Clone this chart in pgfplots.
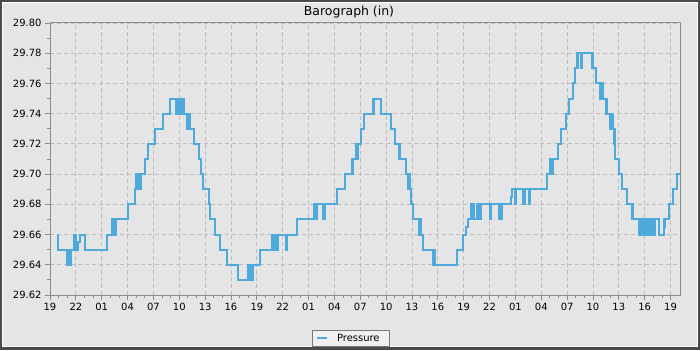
\documentclass[border=0pt]{standalone}
\usepackage{fontspec}
\setmainfont{DejaVu Sans}
\usepackage{pgfplots}
\pgfplotsset{compat=1.18}
\definecolor{framec}{HTML}{4A4A4A}
\definecolor{bg}{HTML}{E5E5E5}
\definecolor{gridc}{HTML}{BDBDBD}
\definecolor{axc}{HTML}{8C8C8C}
\definecolor{linec}{HTML}{4EAADB}
\definecolor{legbg}{HTML}{F0F0F0}
\definecolor{legdraw}{HTML}{7A7A7A}
\begin{document}
\begin{tikzpicture}[x=1bp,y=1bp]
\fill[framec] (0,0) rectangle (700,350);
\fill[white] (2,3) rectangle (697.5,348);
\fill[bg] (3,4) rectangle (697,347);
\begin{axis}[
 at={(50bp,55bp)}, anchor=south west,
 scale only axis, width=630bp, height=272bp,
 xmin=0, xmax=73.1, ymin=29.62, ymax=29.80,
 axis background/.style={fill=bg},
 axis line style={axc, line width=1bp},
 every tick/.style={axc, line width=0.8bp},
 tick align=outside, tick pos=left,
 major tick length=5bp, minor tick length=3bp,
 xtick={0,3,...,72},
 xticklabels={19,22,01,04,07,10,13,16,19,22,01,04,07,10,13,16,19,22,01,04,07,10,13,16,19},
 minor x tick num=2,
 ytick={29.62,29.64,29.66,29.68,29.70,29.72,29.74,29.76,29.78,29.80},
 yticklabels={29.62,29.64,29.66,29.68,29.70,29.72,29.74,29.76,29.78,29.80},
 minor y tick num=1,
 grid=major,
 major grid style={gridc, dash pattern=on 4bp off 3bp, line width=0.8bp},
 ticklabel style={font=\fontsize{10}{12}\selectfont, text=black},
 title={Barograph (in)},
 every axis title shift=0pt,
 title style={at={(axis description cs:0.4746,1.0294)}, anchor=base, font=\fontsize{12.5}{15}\selectfont, inner sep=0pt},
 legend style={at={(axis description cs:0.4775,-0.159)}, anchor=center, fill=legbg, draw=legdraw, line width=0.8bp, font=\fontsize{10}{12}\selectfont, inner sep=0pt, nodes={inner xsep=0pt, inner ysep=3.5bp}},
 legend image code/.code={\path[draw=none,fill=none] (-5bp,0bp) -- (20bp,0bp); \draw[#1, line width=2bp] (0bp,0bp) -- (10bp,0bp);},
]
\addplot[const plot, color=linec, line width=2.1bp, mark=none] coordinates {
(0.85,29.66) (0.97,29.65) (2.0,29.64) (2.1,29.65) (2.15,29.64) (2.25,29.65) (2.3,29.64) (2.4,29.65)
(2.8,29.66) (2.9,29.65) (2.95,29.66) (3.05,29.65) (3.3,29.655) (3.45,29.66) (4.1,29.65)
(6.65,29.66) (7.2,29.67) (7.3,29.66) (7.4,29.67) (7.5,29.66) (7.6,29.67)
(9.1,29.68) (9.85,29.69) (10.0,29.70) (10.1,29.69) (10.2,29.70) (10.3,29.69) (10.4,29.70) (10.5,29.69) (10.6,29.70)
(11.0,29.71) (11.4,29.72) (12.2,29.73) (13.1,29.74) (13.9,29.75)
(14.6,29.74) (14.7,29.75) (14.8,29.74) (14.9,29.75) (15.0,29.74) (15.1,29.75) (15.2,29.74) (15.3,29.75)
(15.5,29.74) (15.85,29.73) (15.95,29.74) (16.05,29.73) (16.15,29.74) (16.25,29.73)
(16.7,29.72) (17.3,29.71) (17.5,29.70) (17.8,29.69) (18.4,29.68) (18.6,29.67) (19.1,29.66) (19.7,29.65)
(20.5,29.64) (21.8,29.63)
(23.0,29.64) (23.1,29.63) (23.2,29.64) (23.3,29.63) (23.4,29.64) (23.5,29.63) (23.6,29.64)
(24.4,29.65) (25.8,29.66) (25.9,29.65) (26.0,29.66) (26.1,29.65) (26.2,29.66) (26.3,29.65) (26.4,29.66)
(27.4,29.65) (27.5,29.66) (28.7,29.67)
(30.6,29.68) (30.7,29.67) (30.8,29.68) (30.9,29.67) (31.0,29.68) (31.65,29.67) (31.95,29.68)
(33.3,29.69) (34.2,29.70) (35.0,29.71) (35.1,29.70) (35.2,29.71) (35.5,29.72) (35.6,29.71) (35.7,29.72)
(36.05,29.73) (36.4,29.74) (37.45,29.75) (37.55,29.74) (37.6,29.75)
(38.4,29.74) (39.6,29.73) (40.0,29.72) (40.5,29.71) (40.6,29.72) (40.65,29.71)
(41.3,29.70) (41.6,29.69) (41.7,29.70) (41.75,29.69) (41.85,29.68) (42.1,29.67)
(42.85,29.66) (42.95,29.67) (43.0,29.66) (43.3,29.65) (44.5,29.64) (44.6,29.65) (44.7,29.64)
(47.2,29.65) (47.9,29.66) (48.25,29.665) (48.45,29.67)
(48.9,29.68) (49.0,29.67) (49.05,29.68) (49.15,29.67) (49.5,29.68) (49.6,29.67) (49.65,29.68) (49.95,29.67) (50.05,29.68)
(51.05,29.67) (51.15,29.68) (52.1,29.67) (52.2,29.68) (52.3,29.67) (52.45,29.68)
(53.45,29.685) (53.6,29.69) (54.0,29.68) (54.1,29.69) (54.9,29.68) (54.95,29.69) (55.05,29.68) (55.15,29.69)
(55.55,29.68) (55.65,29.69)
(57.7,29.70) (58.0,29.71) (58.1,29.70) (58.2,29.71) (58.3,29.70) (58.4,29.71)
(58.9,29.72) (59.3,29.73) (59.9,29.74) (60.2,29.75) (60.7,29.76) (60.9,29.77)
(61.15,29.78) (61.2,29.77) (61.3,29.78) (61.6,29.77) (61.7,29.78)
(62.95,29.77) (63.3,29.76) (63.35,29.77) (63.4,29.76)
(63.8,29.75) (63.9,29.76) (64.0,29.75) (64.1,29.76) (64.2,29.75)
(64.55,29.74) (64.6,29.75) (64.65,29.74)
(65.0,29.73) (65.1,29.74) (65.15,29.73) (65.3,29.74) (65.35,29.73)
(65.5,29.72) (65.6,29.71) (66.0,29.70) (66.4,29.69) (66.9,29.68)
(67.5,29.67) (67.55,29.68) (67.65,29.67)
(68.3,29.66) (68.4,29.67) (68.5,29.66) (68.6,29.67) (68.7,29.66) (68.8,29.67) (68.9,29.66) (69.0,29.67)
(69.1,29.66) (69.2,29.67) (69.3,29.66) (69.4,29.67) (69.5,29.66) (69.6,29.67) (69.7,29.66) (69.8,29.67)
(69.9,29.66) (70.0,29.67) (70.1,29.66) (70.2,29.67)
(70.7,29.66) (71.2,29.665) (71.3,29.67) (71.8,29.68) (72.3,29.69) (72.7,29.70) (73.1,29.70)
};
\addlegendentry{Pressure\hspace*{10bp}}
\end{axis}
\pgfresetboundingbox
\path[use as bounding box] (0,0) rectangle (700,350);
\end{tikzpicture}
\end{document}
